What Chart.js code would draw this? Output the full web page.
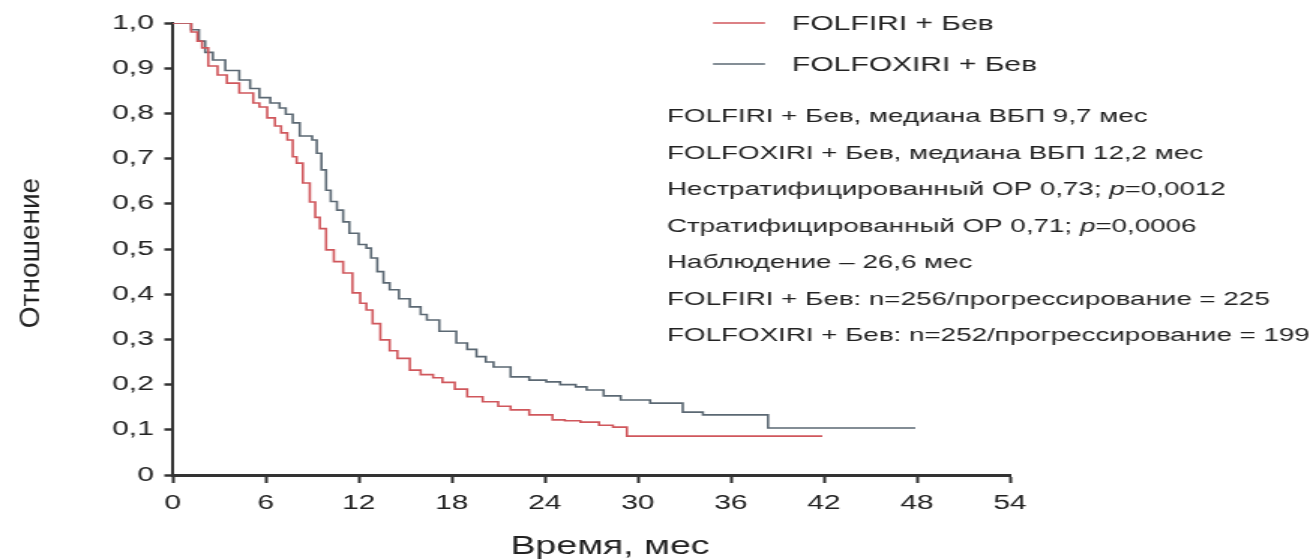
<!DOCTYPE html>
<html>
<head>
<meta charset="utf-8">
<script src="https://cdn.jsdelivr.net/npm/chart.js@4/dist/chart.umd.min.js"></script>
<style>
  html, body { margin: 0; padding: 0; background: #fff; }
</style>
</head>
<body>
<!-- the picture is stretched sideways, so the canvas is drawn narrow and widened by its inline style -->
<canvas id="km" width="877" height="559" style="display:block;width:1316px;height:559px"></canvas>
<script>
// FOLFIRI + Бев (красная кривая): время, мес / доля без прогрессирования
var folfiriMonths = [0, 1.2, 1.6, 1.9, 2.3, 2.9, 3.5, 4.3, 5.2, 5.6, 6.1, 6.6, 7.0, 7.4, 7.75, 8.0, 8.4, 8.85, 9.2, 9.5, 9.9, 10.4, 11.0, 11.6, 12.1, 12.5, 12.9, 13.4, 14.0, 14.5, 15.3, 16.0, 16.8, 17.4, 18.2, 19.0, 20.0, 21.0, 21.8, 23.0, 24.5, 25.3, 26.3, 27.5, 28.4, 29.3, 41.9];
var folfiriSurv = [1.0, 0.98, 0.96, 0.945, 0.905, 0.885, 0.867, 0.845, 0.823, 0.814, 0.79, 0.772, 0.757, 0.741, 0.704, 0.69, 0.646, 0.604, 0.57, 0.545, 0.498, 0.472, 0.447, 0.403, 0.38, 0.365, 0.335, 0.299, 0.275, 0.258, 0.232, 0.222, 0.215, 0.205, 0.19, 0.173, 0.162, 0.152, 0.144, 0.133, 0.122, 0.12, 0.117, 0.11, 0.106, 0.086, 0.086];

// FOLFOXIRI + Бев (серая кривая)
var folfoxiriMonths = [0, 1.2, 1.7, 2.1, 2.6, 3.4, 4.3, 5.0, 5.6, 6.3, 6.9, 7.3, 7.75, 8.2, 9.0, 9.3, 9.6, 9.9, 10.2, 10.6, 11.0, 11.4, 12.0, 12.5, 12.8, 13.2, 13.6, 14.0, 14.6, 15.3, 16.0, 16.4, 17.2, 18.3, 19.0, 19.6, 20.2, 20.7, 21.8, 23.0, 24.1, 25.0, 26.0, 26.7, 27.8, 28.9, 30.8, 32.9, 34.2, 38.4, 47.9];
var folfoxiriSurv = [1.0, 0.985, 0.96, 0.935, 0.918, 0.895, 0.874, 0.855, 0.835, 0.823, 0.812, 0.798, 0.779, 0.75, 0.741, 0.712, 0.675, 0.63, 0.605, 0.586, 0.56, 0.535, 0.51, 0.502, 0.48, 0.45, 0.425, 0.41, 0.39, 0.372, 0.355, 0.343, 0.318, 0.292, 0.278, 0.262, 0.25, 0.239, 0.217, 0.21, 0.206, 0.2, 0.195, 0.188, 0.175, 0.166, 0.159, 0.139, 0.133, 0.104, 0.104];

var seriesNames = ['FOLFIRI + Бев', 'FOLFOXIRI + Бев'];
var xTickLabels = ['0', '6', '12', '18', '24', '30', '36', '42', '48', '54'];
var yTickLabels = ['0', '0,1', '0,2', '0,3', '0,4', '0,5', '0,6', '0,7', '0,8', '0,9', '1,0'];
var xTitle = 'Время, мес';
var yTitle = 'Отношение';
var notes = [
    'FOLFIRI + Бев, медиана ВБП 9,7 мес',
    'FOLFOXIRI + Бев, медиана ВБП 12,2 мес',
    'Нестратифицированный ОР 0,73; p=0,0012',
    'Стратифицированный ОР 0,71; p=0,0006',
    'Наблюдение – 26,6 мес',
    'FOLFIRI + Бев: n=256/прогрессирование = 225',
    'FOLFOXIRI + Бев: n=252/прогрессирование = 199'
];

var SX = 1316 / 877;   // растяжение по горизонтали
var FONT = '"Liberation Sans", Arial, sans-serif';
var INK = '#222';

function toPoints(xs, ys) {
    var pts = [];
    for (var i = 0; i < xs.length; i++) pts.push({ x: xs[i], y: ys[i] });
    return pts;
}

// подписи, легенда и заголовки осей
var textPlugin = {
    id: 'texts',
    afterDraw: function(chart) {
        var ctx = chart.ctx;
        ctx.save();
        ctx.fillStyle = INK;
        ctx.textBaseline = 'middle';

        // легенда
        var rows = [23, 64];
        chart.data.datasets.forEach(function(ds, i) {
            ctx.strokeStyle = ds.borderColor;
            ctx.lineWidth = 1.6;
            ctx.beginPath();
            ctx.moveTo(713 / SX, rows[i]);
            ctx.lineTo(765 / SX, rows[i]);
            ctx.stroke();
            ctx.font = '20px ' + FONT;
            ctx.textAlign = 'left';
            ctx.fillText(ds.label, 792 / SX, rows[i] + 1);
        });

        // текст справа
        var x0 = 667 / SX;
        var f = '18.5px ' + FONT;
        notes.forEach(function(line, i) {
            var y = 117 + i * 36.5;
            var k = line.indexOf('p=');
            ctx.textAlign = 'left';
            ctx.font = f;
            if (k < 0) {
                ctx.fillText(line, x0, y);
                return;
            }
            var a = line.slice(0, k), b = line.slice(k + 1);
            ctx.fillText(a, x0, y);
            var x = x0 + ctx.measureText(a).width;
            ctx.font = 'italic ' + f;
            ctx.fillText('p', x, y);
            x += ctx.measureText('p').width;
            ctx.font = f;
            ctx.fillText(b, x, y);
        });

        // заголовок оси X
        ctx.font = '25px ' + FONT;
        ctx.textAlign = 'center';
        ctx.fillText(xTitle, 610 / SX, 547);

        // заголовок оси Y (повернут, без растяжения)
        ctx.translate(32 / SX, 253);
        ctx.scale(1 / SX, 1);
        ctx.rotate(-Math.PI / 2);
        ctx.font = '28px ' + FONT;
        ctx.fillText(yTitle, 0, 0);
        ctx.restore();
    }
};

Chart.defaults.font.family = FONT;
Chart.defaults.color = INK;

new Chart(document.getElementById('km'), {
    type: 'line',
    data: {
        datasets: [{
            label: seriesNames[0],
            data: toPoints(folfiriMonths, folfiriSurv),
            borderColor: '#d0575c',
            borderWidth: 1.6,
            stepped: true,
            pointRadius: 0,
            fill: false
        }, {
            label: seriesNames[1],
            data: toPoints(folfoxiriMonths, folfoxiriSurv),
            borderColor: '#5b6873',
            borderWidth: 1.6,
            stepped: true,
            pointRadius: 0,
            fill: false
        }]
    },
    options: {
        responsive: false,
        animation: false,
        devicePixelRatio: 1,
        layout: { padding: { left: 0, right: 204, top: 23, bottom: 0 } },
        plugins: {
            legend: { display: false },
            tooltip: { enabled: false }
        },
        scales: {
            x: {
                type: 'linear',
                min: 0,
                max: 54,
                afterFit: function(scale) { scale.height = 84; },
                ticks: {
                    stepSize: 6,
                    padding: 8,
                    maxRotation: 0,
                    font: { size: 20 },
                    color: INK,
                    callback: function(v, i) { return xTickLabels[i]; }
                },
                grid: {
                    drawOnChartArea: false,
                    drawTicks: true,
                    tickLength: 8,
                    tickWidth: 2,
                    tickColor: '#333'
                },
                border: { display: true, color: '#333', width: 3 },
                title: { display: false }
            },
            y: {
                min: 0,
                max: 1,
                afterFit: function(scale) { scale.width = 115; },
                ticks: {
                    stepSize: 0.1,
                    padding: 7,
                    font: { size: 20 },
                    color: INK,
                    callback: function(v, i) { return yTickLabels[i]; }
                },
                grid: {
                    drawOnChartArea: false,
                    drawTicks: true,
                    tickLength: 5.5,
                    tickWidth: 2.5,
                    tickColor: '#333'
                },
                border: { display: true, color: '#333', width: 2 },
                title: { display: false }
            }
        }
    },
    plugins: [textPlugin]
});
</script>
</body>
</html>
